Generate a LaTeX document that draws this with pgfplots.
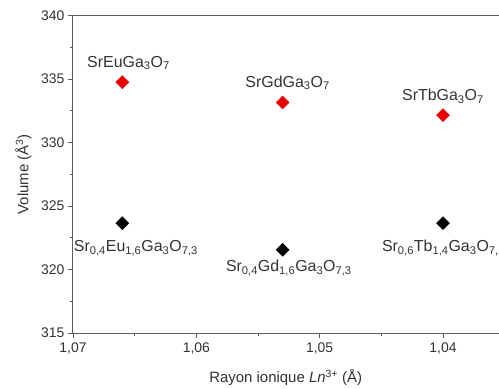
\documentclass[border=0pt]{standalone}
\usepackage{pgfplots}
\pgfplotsset{compat=1.18}
\usepackage{fontspec}
\setmainfont{Liberation Sans}
\definecolor{txt}{RGB}{50,50,50}
\definecolor{myred}{RGB}{230,0,0}
\begin{document}
\begin{tikzpicture}[x=1bp,y=1bp]
\begin{axis}[
  at={(73bp,56bp)}, anchor=south west,
  scale only axis, width=425.5bp, height=317.5bp,
  x dir=reverse,
  xmin=1.0355, xmax=1.07, ymin=315, ymax=340,
  axis x line*=box, axis y line*=left,
  xtick={1.04,1.05,1.06,1.07},
  xticklabels={{1,04},{1,05},{1,06},{1,07}},
  ytick={315,320,...,340},
  minor xtick={1.045,1.055,1.065},
  minor ytick={317.5,322.5,327.5,332.5,337.5},
  xtick pos=bottom, ytick pos=left,
  tick align=outside,
  major tick length=5bp, minor tick length=3bp,
  axis line style={line width=1pt, draw=txt!80},
  every tick/.style={line width=0.8pt, draw=txt!80},
  /pgf/number format/assume math mode=true,
  tick label style={font=\fontsize{14}{16}\selectfont, text=txt},
  xticklabel style={yshift=-1bp},
  xlabel={Rayon ionique \textit{Ln}\textsuperscript{3+} (Å)},
  ylabel={Volume (Å\textsuperscript{3})},
  label style={font=\fontsize{15}{17}\selectfont, text=txt},
  xlabel style={yshift=-9bp},
  ylabel style={yshift=3bp},
  clip=false,
]
\addplot[only marks, mark=square*, mark size=4.6bp, mark options={rotate=45}, color=myred] coordinates {
  (1.066,334.75) (1.053,333.15) (1.040,332.15)
};
\addplot[only marks, mark=square*, mark size=4.6bp, mark options={rotate=45}, color=black] coordinates {
  (1.066,323.65) (1.053,321.55) (1.040,323.65)
};
\begin{scope}[every node/.style={font=\fontsize{16}{18}\selectfont, text=txt, inner sep=0pt}]
\node at (axis cs:1.0655,336.26) {SrEuGa\textsubscript{3}O\textsubscript{7}};
\node at (axis cs:1.0526,334.69) {SrGdGa\textsubscript{3}O\textsubscript{7}};
\node at (axis cs:1.0400,333.66) {SrTbGa\textsubscript{3}O\textsubscript{7}};
\node at (axis cs:1.0649,321.69) {Sr\textsubscript{0,4}Eu\textsubscript{1,6}Ga\textsubscript{3}O\textsubscript{7,3}};
\node at (axis cs:1.0525,320.12) {Sr\textsubscript{0,4}Gd\textsubscript{1,6}Ga\textsubscript{3}O\textsubscript{7,3}};
\node[anchor=west] at (axis cs:1.04496,321.69) {Sr\textsubscript{0,6}Tb\textsubscript{1,4}Ga\textsubscript{3}O\textsubscript{7,2}};
\end{scope}
\end{axis}
\pgfresetboundingbox
\useasboundingbox (0,0) rectangle (499bp,389bp);
\end{tikzpicture}
\end{document}
